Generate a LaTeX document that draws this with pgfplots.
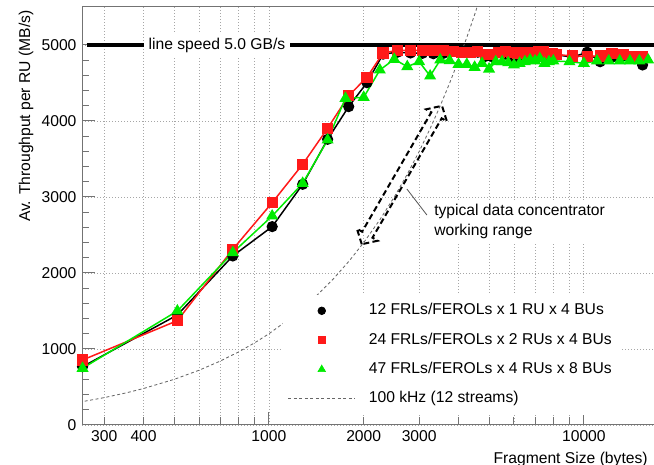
\documentclass[border=0pt]{standalone}
\usepackage{fontspec}
\setmainfont{Liberation Sans}
\usepackage{pgfplots}
\usepackage{pgfplotstable}
\pgfplotsset{compat=1.18}
\definecolor{rred}{RGB}{255,25,25}
\definecolor{rgreen}{RGB}{0,235,0}
\pgfplotstableread{
x y
256 767
512 1447
768 2224
1024 2610
1280 3167
1536 3759
1792 4189
2048 4504
2304 4880
2560 4905
2816 4895
3072 4890
3328 4885
3584 4890
3840 4950
4096 4920
4352 4930
4608 4905
4864 4850
5120 4845
5376 4899
5632 4880
5888 4850
6144 4825
6400 4934
6656 4880
6912 4870
7168 4880
7424 4870
7680 4860
7936 4875
8192 4870
9216 4840
10240 4905
11264 4780
12288 4840
13312 4860
14336 4830
15360 4737
}\blackdata
\pgfplotstableread{
x y
256 855
512 1373
768 2311
1024 2925
1280 3430
1536 3904
1792 4333
2048 4575
2304 4895
2560 4930
2816 4930
3072 4930
3328 4925
3584 4925
3840 4910
4096 4900
4352 4905
4608 4910
4864 4870
5120 4880
5376 4900
5632 4910
5888 4905
6144 4885
6400 4895
6656 4900
6912 4905
7168 4912
7424 4912
7680 4890
7936 4885
8192 4875
9216 4855
10240 4850
11264 4855
12288 4890
13312 4880
14336 4850
15360 4850
}\reddata
\pgfplotstableread{
x y
256 746
512 1500
768 2268
1024 2750
1280 3180
1536 3750
1750 4298
2000 4311
2250 4671
2500 4812
2750 4715
3000 4780
3250 4592
3500 4803
3750 4794
4000 4746
4250 4746
4500 4707
4750 4759
5000 4684
5250 4780
5500 4780
5750 4767
6000 4737
6250 4759
6500 4780
6750 4803
7000 4790
7250 4820
7500 4759
7750 4780
8000 4790
9000 4780
10000 4759
11000 4790
12000 4790
13000 4790
14000 4790
15000 4790
16000 4803
}\greendata
\begin{document}
\fontsize{9.4}{11.7}\selectfont
\begin{tikzpicture}
\begin{axis}[name=ax, scale only axis, width=343.2pt, height=250.8pt,
 xmode=log, xmin=255, xmax=16700, ymin=0, ymax=5500,
 axis x line*=box, axis y line*=left,
 axis line style={-, draw=black!55, line width=0.6pt},
 xtick pos=bottom, ytick pos=left, tick align=inside,
 xtick={1000,10000}, xticklabels={1000,10000},
 minor xtick={300,400,500,600,700,800,900,2000,3000,4000,5000,6000,7000,8000,9000},
 extra x ticks={300,400,2000,3000}, extra x tick labels={300,400,2000,3000},
 extra x tick style={major tick length=4.5pt, grid=none},
 ytick={0,1000,2000,3000,4000,5000}, minor y tick num=4,
 /pgf/number format/1000 sep={}, /pgf/number format/assume math mode=true,
 major tick length=8pt, minor tick length=4.5pt,
 tick style={black!55, line width=0.6pt},
 xmajorgrids, xminorgrids, ymajorgrids,
 grid style={gray!70, dash pattern=on 0.6pt off 1.2pt, line width=0.5pt},
 minor grid style={gray!70, dash pattern=on 0.6pt off 1.2pt, line width=0.5pt},
 xlabel={Fragment Size (bytes)}, ylabel={Av. Throughput per RU (MB/s)},
 xlabel style={at={(rel axis cs:0.9895,-0.0646)}, anchor=north east, inner sep=0},
 ylabel style={at={(rel axis cs:-0.0909,0.9928)}, anchor=base east, inner sep=0},
 legend style={at={(rel axis cs:0.3514,0.311)}, anchor=north west, draw=none, fill=white,
   inner sep=3pt, outer sep=0, row sep=4.6pt, column sep=6pt,
   nodes={text height=7pt, text depth=2pt, inner sep=2pt, anchor=west}},
 legend cell align=left,
 legend image code/.code={\draw[mark repeat=2,mark phase=2,#1] plot coordinates {(0pt,0pt) (20pt,0pt) (40pt,0pt)};},
]
\addplot[black, line width=2pt, forget plot] coordinates {(264,5000) (16700,5000)};
\node[fill=white, inner sep=3pt] at (axis cs:684,5000) {line speed 5.0 GB/s};
\addplot[black!60, dash pattern=on 1.8pt off 1.5pt, line width=0.5pt, forget plot] coordinates {
(250,300) (300,360) (350,420) (400,480) (500,600) (600,720) (700,840) (800,960) (900,1080)
(1000,1200) (1200,1440) (1400,1680) (1600,1920) (1800,2160) (2000,2400) (2250,2700)
(2500,3000) (2750,3300) (3000,3600) (3250,3900) (3500,4200) (3750,4500) (4000,4800)
(4250,5100) (4500,5400) (4750,5700)};
\addplot[black, line width=0.9pt, mark=*, mark size=2.9pt, mark options={solid}, forget plot] table[x=x,y=y] {\blackdata};
\addplot[rred, line width=0.9pt, mark=square*, mark size=2.9pt, mark options={solid, fill=rred}, forget plot] table[x=x,y=y] {\reddata};
\addplot[rgreen, line width=0.9pt, mark=triangle*, mark size=3.3pt, mark options={solid, fill=rgreen}, forget plot] table[x=x,y=y] {\greendata};
\draw[gray!70!black, line width=0.5pt] (axis cs:2742,3105) -- (axis cs:3174,2763);
\node[fill=white, inner sep=2pt, anchor=north west, align=left] at (axis cs:3261,2951) {typical data concentrator\\working range};
\coordinate (ac) at (axis cs:2644,3289);
\addlegendimage{only marks, mark=*, mark size=2.3pt, black}
\addlegendentry{12 FRLs/FEROLs x 1 RU x 4 BUs}
\addlegendimage{only marks, mark=square*, mark size=2.2pt, rred, fill=rred}
\addlegendentry{24 FRLs/FEROLs x 2 RUs x 4 BUs}
\addlegendimage{only marks, mark=triangle*, mark size=2.6pt, rgreen, fill=rgreen}
\addlegendentry{47 FRLs/FEROLs x 4 RUs x 8 BUs}
\addlegendimage{black!60, dash pattern=on 1.8pt off 1.5pt, line width=0.5pt}
\addlegendentry{100 kHz (12 streams)}
\end{axis}
\draw[black, line width=1.2pt, dash pattern=on 3.5pt off 2pt, shift={(ac)}, rotate=59.9, x=0.6pt, y=0.6pt]
 (-80,0) -- (-69,12) -- (-69,6) -- (69,6) -- (69,12) -- (80,0) -- (69,-12) -- (69,-6) -- (-69,-6) -- (-69,-12) -- cycle;
\pgfresetboundingbox
\useasboundingbox ([xshift=-49.2pt,yshift=-24pt]ax.south west) rectangle ([yshift=4.2pt]ax.north east);
\end{tikzpicture}
\end{document}
